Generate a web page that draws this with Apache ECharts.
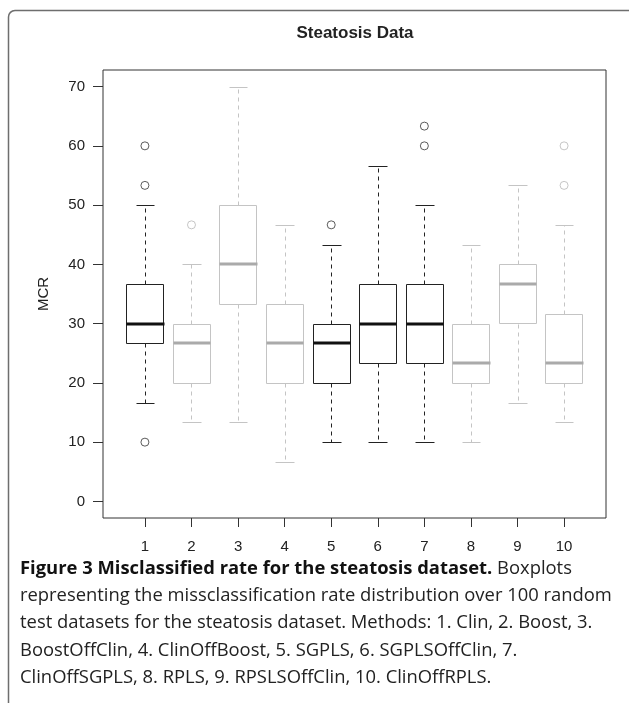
<!DOCTYPE html>
<html>
<head>
<meta charset="utf-8">
<script src="https://cdn.jsdelivr.net/npm/echarts@6/dist/echarts.min.js"></script>
<style>
html,body{margin:0;padding:0;background:#fff;}
#chart{width:629px;height:703px;}
</style>
</head>
<body>
<div id="chart"></div>
<script>
// ---- Data ----
const categories = ['1','2','3','4','5','6','7','8','9','10'];
const lowerWhisker = [16.67, 13.33, 13.33, 6.67, 10, 10, 10, 10, 16.67, 13.33];
const q1 =           [26.67, 20, 33.33, 20, 20, 23.33, 23.33, 20, 30, 20];
const median =       [30, 26.67, 40, 26.67, 26.67, 30, 30, 23.33, 36.67, 23.33];
const q3 =           [36.67, 30, 50, 33.33, 30, 36.67, 36.67, 30, 40, 31.67];
const upperWhisker = [50, 40, 70, 46.67, 43.33, 56.67, 50, 43.33, 53.33, 46.67];
const outlierMethod = [1, 1, 1, 2, 5, 7, 7, 10, 10];
const outlierValue =  [60, 53.33, 10, 46.67, 46.67, 63.33, 60, 60, 53.33];
const darkBox = [true, false, false, false, true, true, true, false, false, false];
const yTicks = [0, 10, 20, 30, 40, 50, 60, 70];

const DARK = {line: '#222', median: '#111', out: '#333'};
const LIGHT = {line: '#c4c4c4', median: '#aaaaaa', out: '#b8b8b8'};

const boxData = categories.map((c, i) => [i + 1, lowerWhisker[i], q1[i], median[i], q3[i], upperWhisker[i]]);
const darkOut = [], lightOut = [];
outlierMethod.forEach((m, i) => {
  (darkBox[m - 1] ? darkOut : lightOut).push([m, outlierValue[i]]);
});

function px(v){ return Math.round(v) + 0.5; }

function renderBox(params, api) {
  const i = params.dataIndex;
  const x = api.value(0);
  const col = darkBox[i] ? DARK : LIGHT;
  const halfW = api.size([0.4, 0])[0];
  const capW = api.size([0.2, 0])[0];
  const cx = api.coord([x, 0])[0];
  const yLo = api.coord([x, api.value(1)])[1];
  const yQ1 = api.coord([x, api.value(2)])[1];
  const yMed = api.coord([x, api.value(3)])[1];
  const yQ3 = api.coord([x, api.value(4)])[1];
  const yHi = api.coord([x, api.value(5)])[1];
  const X = px(cx);
  const solid = {stroke: col.line, lineWidth: 1, fill: null};
  const dashed = {stroke: col.line, lineWidth: 1, lineDash: [4, 4]};
  return {
    type: 'group',
    children: [
      {type: 'line', shape: {x1: X, y1: px(yQ3), x2: X, y2: px(yHi)}, style: dashed},
      {type: 'line', shape: {x1: X, y1: px(yQ1), x2: X, y2: px(yLo)}, style: dashed},
      {type: 'line', shape: {x1: px(cx - capW), y1: px(yHi), x2: px(cx + capW), y2: px(yHi)}, style: solid},
      {type: 'line', shape: {x1: px(cx - capW), y1: px(yLo), x2: px(cx + capW), y2: px(yLo)}, style: solid},
      {type: 'rect', shape: {x: px(cx - halfW), y: px(yQ3), width: Math.round(2 * halfW), height: Math.round(yQ1 - yQ3)},
        style: {stroke: col.line, lineWidth: 1, fill: '#fff'}},
      {type: 'line', shape: {x1: px(cx - halfW), y1: Math.round(yMed), x2: px(cx + halfW), y2: Math.round(yMed)},
        style: {stroke: col.median, lineWidth: 3}}
    ]
  };
}

const chart = echarts.init(document.getElementById('chart'), null, {renderer: 'canvas'});
const captionFont = '"Open Sans", "Noto Sans", sans-serif';
const capSize = 18.4;
const capStyle = {fontFamily: captionFont, fontSize: capSize, fill: '#222'};
const captionLines = [
  'representing the missclassification rate distribution over 100 random',
  'test datasets for the steatosis dataset. Methods: 1. Clin, 2. Boost, 3.',
  'BoostOffClin, 4. ClinOffBoost, 5. SGPLS, 6. SGPLSOffClin, 7.',
  'ClinOffSGPLS, 8. RPLS, 9. RPSLSOffClin, 10. ClinOffRPLS.'
];
const frameStyle = {stroke: '#6e6e6e', lineWidth: 1.5, fill: null};

const graphics = [
  {type: 'line', shape: {x1: 8.5, y1: 17, x2: 8.5, y2: 703}, style: frameStyle, silent: true},
  {type: 'line', shape: {x1: 15, y1: 10.5, x2: 629, y2: 10.5}, style: frameStyle, silent: true},
  {type: 'arc', shape: {cx: 15, cy: 17, r: 6.5, startAngle: Math.PI, endAngle: Math.PI * 1.5, clockwise: true},
    style: frameStyle, silent: true},
  {type: 'text', x: 355, y: 33, style: {text: 'Steatosis Data', fontFamily: '"Liberation Sans", Arial, sans-serif',
    fontWeight: 'bold', fontSize: 17, fill: '#222', align: 'center', verticalAlign: 'middle'}},
  {type: 'text', x: 20, y: 569, style: {
    text: '{b|Figure 3 Misclassified rate for the steatosis dataset.} Boxplots',
    fontFamily: captionFont, fontSize: capSize, fill: '#222', verticalAlign: 'middle',
    rich: {b: {fontFamily: captionFont, fontSize: capSize, fontWeight: 'bold', fill: '#111'}}
  }}
];
captionLines.forEach((t, k) => {
  graphics.push({type: 'text', x: 20, y: 596 + k * 27.2,
    style: Object.assign({text: t, verticalAlign: 'middle'}, capStyle)});
});

chart.setOption({
  animation: false,
  backgroundColor: '#fff',
  grid: {left: 103, right: 23, top: 70, bottom: 185, show: true, borderColor: '#333', borderWidth: 1, backgroundColor: 'transparent'},
  xAxis: {
    type: 'value', min: 0.1, max: 10.9,
    splitLine: {show: false},
    axisLine: {show: false, onZero: false},
    axisTick: {show: true, inside: false, customValues: categories.map((c, i) => i + 1), length: 9, lineStyle: {color: '#333'}},
    axisLabel: {customValues: categories.map((c, i) => i + 1), formatter: v => categories[Math.round(v) - 1],
      fontFamily: '"Liberation Sans", Arial, sans-serif', fontSize: 15, color: '#222', margin: 21}
  },
  yAxis: {
    type: 'value', min: -2.8, max: 72.8,
    name: 'MCR', nameLocation: 'middle', nameGap: 52, nameRotate: 90,
    nameTextStyle: {fontFamily: '"Liberation Sans", Arial, sans-serif', fontSize: 15, color: '#222'},
    splitLine: {show: false},
    axisLine: {show: false, onZero: false},
    axisTick: {show: true, inside: false, customValues: yTicks, length: 10, lineStyle: {color: '#333'}},
    axisLabel: {customValues: yTicks, fontFamily: '"Liberation Sans", Arial, sans-serif', fontSize: 15, color: '#222', margin: 18}
  },
  graphic: graphics,
  series: [
    {type: 'custom', renderItem: renderBox, data: boxData, encode: {x: 0, y: [1, 2, 3, 4, 5]}, z: 2},
    {type: 'scatter', data: darkOut, symbol: 'circle', symbolSize: 8,
      itemStyle: {color: 'transparent', borderColor: DARK.out, borderWidth: 1}, z: 3},
    {type: 'scatter', data: lightOut, symbol: 'circle', symbolSize: 8,
      itemStyle: {color: 'transparent', borderColor: LIGHT.out, borderWidth: 1}, z: 3}
  ]
});
</script>
</body>
</html>
